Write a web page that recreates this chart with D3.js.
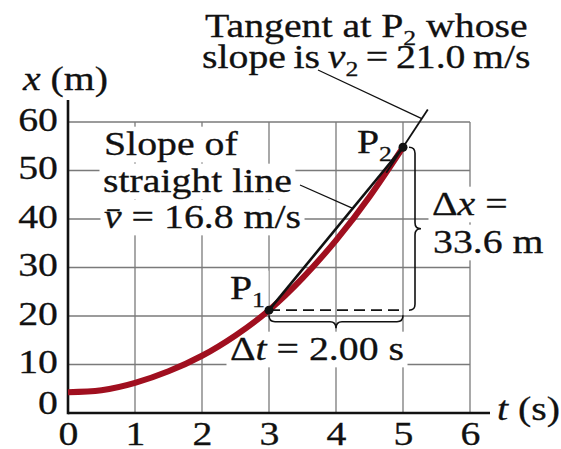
<!DOCTYPE html>
<html>
<head>
<meta charset="utf-8">
<script src="https://cdn.jsdelivr.net/npm/d3@7"></script>
<style>
  html, body { margin: 0; background: #fff; }
  svg { display: block; }
  text { white-space: pre; }
</style>
</head>
<body>
<svg id="chart" width="561" height="449"></svg>
<script>
// Position-time curve x(t), sampled every half second
const timeS = [0, 0.5, 1, 1.5, 2, 2.5, 3, 3.5, 4, 4.5, 5];
const positionM = [4.3, 4.7, 6.2, 8.6, 11.8, 16.0, 21.2, 27.8, 35.6, 44.6, 54.8];

// Marked points P1 and P2
const pointNames = ["1", "2"];
const pointT = [3, 5];
const pointX = [21.2, 54.8];

// Slope of the tangent at P2 (m/s)
const tangentSlope = 21.0;

// Axis ticks
const tTicks = [0, 1, 2, 3, 4, 5, 6];
const xTicks = [0, 10, 20, 30, 40, 50, 60];

const FONT = "'Liberation Serif', 'Times New Roman', serif";
const FS = 34;          // main font size
const SUB_FS = 22;      // subscript size
const SUB_DY = 8;       // subscript drop
const SX = 1.17;        // horizontal stretch of the lettering
const INK = "#111";
const RED = "#a00f1f";
const GRID = "#7a7a7a";

const svg = d3.select("#chart");

const x = d3.scaleLinear().domain([0, 6]).range([68, 470]);
const y = d3.scaleLinear().domain([0, 60]).range([413, 122]);

// ---- grid ----
const grid = svg.append("g").attr("stroke", GRID).attr("stroke-width", 1.3);
grid.selectAll("line.v").data(tTicks.filter(d => d > 0)).join("line")
  .attr("class", "v")
  .attr("x1", d => x(d)).attr("x2", d => x(d))
  .attr("y1", y(0)).attr("y2", y(60));
grid.selectAll("line.h").data(xTicks.filter(d => d > 0)).join("line")
  .attr("class", "h")
  .attr("x1", x(0)).attr("x2", x(6))
  .attr("y1", d => y(d)).attr("y2", d => y(d));

// ---- text helper: stretched serif lettering with optional white knockout ----
function addLabel(px, py, parts, knock, wordSpacing) {
  const g = svg.append("g").attr("transform", `translate(${px},${py}) scale(${SX},1)`);
  const text = g.append("text")
    .attr("font-family", FONT)
    .attr("font-size", FS)
    .attr("fill", INK)
    .attr("stroke", INK).attr("stroke-width", 0.3);
  if (wordSpacing) text.attr("word-spacing", wordSpacing);
  let shift = 0;
  parts.forEach(p => {
    const s = typeof p === "string" ? { s: p } : p;
    const target = s.sub ? SUB_DY : 0;
    const ts = text.append("tspan").text(s.s);
    if (target - shift !== 0) ts.attr("dy", target - shift);
    shift = target;
    if (s.sub) ts.attr("font-size", SUB_FS);
    if (s.it) ts.attr("font-style", "italic");
  });
  if (knock) {
    const b = text.node().getBBox();
    g.insert("rect", "text")
      .attr("x", b.x - 3).attr("y", b.y + 2)
      .attr("width", b.width + 6).attr("height", b.height - 2)
      .attr("fill", "#fff");
  }
  return g;
}

const dx = (pointX[1] - pointX[0]);
const dt = (pointT[1] - pointT[0]);
const vAvg = dx / dt;

// ---- annotations (text) ----
addLabel(205, 37, ["Tangent at P", { s: "2", sub: true }, " whose"], false);
addLabel(202, 68, ["slope is ", { s: "v", it: true }, { s: "2", sub: true }, " = " + tangentSlope.toFixed(1) + " m/s"], false, -2);

addLabel(104, 155, ["Slope of"], true);
addLabel(103, 192, ["straight line"], true);
addLabel(104, 228, [{ s: "v\u0304", it: true }, " = " + vAvg.toFixed(1) + " m/s"], true);

addLabel(230, 299, ["P", { s: pointNames[0], sub: true }], true);
addLabel(357, 153, ["P", { s: pointNames[1], sub: true }], true);

addLabel(230, 360, ["\u0394", { s: "t", it: true }, " = " + dt.toFixed(2) + " s"], true);
addLabel(432, 215, ["\u0394", { s: "x", it: true }, " ="], true);
addLabel(433, 253, [dx.toFixed(1) + " m"], true);

addLabel(23, 90, [{ s: "x", it: true }, " (m)"], false);
addLabel(497, 420, [{ s: "t", it: true }, " (s)"], false);

// ---- axes ----
const axisB = svg.append("g").attr("transform", `translate(0,${y(0)})`)
  .call(d3.axisBottom(x).tickValues(tTicks).tickSize(0).tickPadding(0).tickFormat(d3.format("d")));
axisB.select(".domain").remove();
axisB.selectAll("text")
  .attr("font-family", FONT).attr("font-size", FS).attr("fill", INK)
  .attr("stroke", INK).attr("stroke-width", 0.3)
  .attr("y", 32).attr("dy", null)
  .attr("transform", `scale(${SX},1)`);

const axisL = svg.append("g").attr("transform", `translate(${x(0)},0)`)
  .call(d3.axisLeft(y).tickValues(xTicks).tickSize(0).tickPadding(10).tickFormat(d3.format("d")));
axisL.select(".domain").remove();
axisL.selectAll("text")
  .attr("font-family", FONT).attr("font-size", FS).attr("fill", INK)
  .attr("stroke", INK).attr("stroke-width", 0.3)
  .attr("x", -10 / SX).attr("dy", null)
  .attr("y", d => d === 0 ? 0 : 8)
  .attr("transform", `scale(${SX},1)`);
svg.selectAll(".tick line").remove();

svg.append("line")
  .attr("x1", x(0)).attr("x2", x(6) + 20)
  .attr("y1", y(0)).attr("y2", y(0))
  .attr("stroke", INK).attr("stroke-width", 2.6);
svg.append("line")
  .attr("x1", x(0)).attr("x2", x(0))
  .attr("y1", y(0) + 1.3).attr("y2", y(60) - 22)
  .attr("stroke", INK).attr("stroke-width", 2.6);

// ---- curve ----
const line = d3.line().x((d, i) => x(timeS[i])).y(d => y(d)).curve(d3.curveNatural);
svg.append("path")
  .attr("d", line(positionM))
  .attr("fill", "none").attr("stroke", RED).attr("stroke-width", 6);

// chord P1-P2
svg.append("line")
  .attr("x1", x(pointT[0])).attr("y1", y(pointX[0]))
  .attr("x2", x(pointT[1])).attr("y2", y(pointX[1]))
  .attr("stroke", INK).attr("stroke-width", 2.6);

// tangent at P2
const tanT = [4.75, 5.37];
const tanX = tanT.map(t => pointX[1] + tangentSlope * (t - pointT[1]));
svg.append("line")
  .attr("x1", x(tanT[0])).attr("y1", y(tanX[0]))
  .attr("x2", x(tanT[1])).attr("y2", y(tanX[1]))
  .attr("stroke", INK).attr("stroke-width", 1.8);

// dashed Δt reference line
svg.append("line")
  .attr("x1", x(pointT[0])).attr("y1", y(pointX[0]))
  .attr("x2", x(pointT[1])).attr("y2", y(pointX[0]))
  .attr("stroke", INK).attr("stroke-width", 1.8)
  .attr("stroke-dasharray", "11,6");

// braces
function vBrace(xe, y1, y2, w, r) {
  const xm = xe + w / 2, xt = xe + w, ym = (y1 + y2) / 2;
  return `M${xe},${y1} Q${xm},${y1} ${xm},${y1 + r} L${xm},${ym - r} Q${xm},${ym} ${xt},${ym} ` +
         `Q${xm},${ym} ${xm},${ym + r} L${xm},${y2 - r} Q${xm},${y2} ${xe},${y2}`;
}
function hBrace(ye, x1, x2, w, r) {
  const ym = ye + w / 2, yt = ye + w, xm = (x1 + x2) / 2;
  return `M${x1},${ye} Q${x1},${ym} ${x1 + r},${ym} L${xm - r},${ym} Q${xm},${ym} ${xm},${yt} ` +
         `Q${xm},${ym} ${xm + r},${ym} L${x2 - r},${ym} Q${x2},${ym} ${x2},${ye}`;
}
svg.append("path")
  .attr("d", vBrace(x(pointT[1]) + 6, y(pointX[1]), y(pointX[0]), 12, 6))
  .attr("fill", "none").attr("stroke", INK).attr("stroke-width", 1.6);
svg.append("path")
  .attr("d", hBrace(y(pointX[0]) + 5, x(pointT[0]), x(pointT[1]), 13, 6))
  .attr("fill", "none").attr("stroke", INK).attr("stroke-width", 1.6);

// leader lines
const leadTanT = 5.28;
svg.append("line")
  .attr("x1", 318).attr("y1", 70)
  .attr("x2", x(leadTanT)).attr("y2", y(pointX[1] + tangentSlope * (leadTanT - pointT[1])))
  .attr("stroke", INK).attr("stroke-width", 1.3);
const leadChordT = 4.25;
svg.append("line")
  .attr("x1", 300).attr("y1", 185)
  .attr("x2", x(leadChordT)).attr("y2", y(pointX[0] + vAvg * (leadChordT - pointT[0])))
  .attr("stroke", INK).attr("stroke-width", 1.3);

// points
svg.selectAll("circle.pt").data(pointT).join("circle")
  .attr("class", "pt")
  .attr("cx", d => x(d)).attr("cy", (d, i) => y(pointX[i]))
  .attr("r", 4.5).attr("fill", INK);
</script>
</body>
</html>
